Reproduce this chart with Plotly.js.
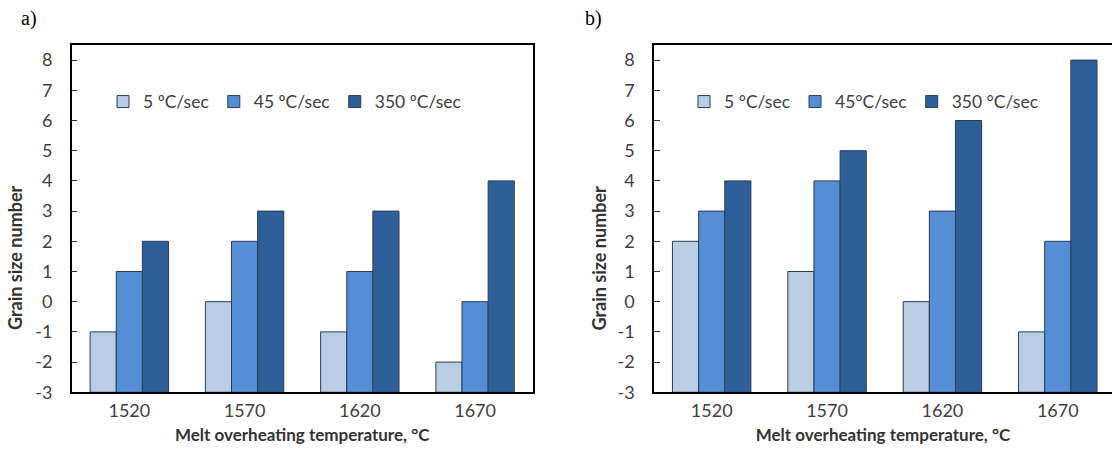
<!DOCTYPE html>
<html>
<head>
<meta charset="utf-8">
<script src="https://cdn.plot.ly/plotly-3.0.1.min.js"></script>
<style>html,body{margin:0;padding:0;overflow:hidden;background:#fff}#chart{width:1112px;height:450px}</style>
</head>
<body>
<div id="chart"></div>
<script>
// ---- data ----
const categories = ['1520', '1570', '1620', '1670'];
const namesA = ['5 ºC/sec', '45 ºC/sec', '350 ºC/sec'];
const namesB = ['5 °C/sec', '45°C/sec', '350 °C/sec'];
const a_5 = [-1, 0, -1, -2];
const a_45 = [1, 2, 1, 0];
const a_350 = [2, 3, 3, 4];
const b_5 = [2, 1, 0, -1];
const b_45 = [3, 4, 3, 2];
const b_350 = [4, 5, 6, 8];
const yTickVals = [-3, -2, -1, 0, 1, 2, 3, 4, 5, 6, 7, 8];
const yTickText = yTickVals.map(String);
const axisMin = -3;

// ---- styles ----
const colors = ['#b9cde5', '#558ed5', '#2f5f98'];
const W = 1112, H = 450;
const px = v => v / W, py = v => (H - v) / H;
const FONT = 'Lato, "Open Sans", sans-serif';

function bars(vals, name, color, xa, ya, leg) {
  return {
    type: 'bar', x: categories, y: vals.map(v => v - axisMin), base: axisMin,
    customdata: vals, hovertemplate: '%{customdata}<extra>' + name + '</extra>',
    name: name, xaxis: xa, yaxis: ya, legend: leg,
    marker: {color: color, line: {color: '#2a3d58', width: 1}}
  };
}
const data = [
  bars(a_5, namesA[0], colors[0], 'x', 'y', 'legend'),
  bars(a_45, namesA[1], colors[1], 'x', 'y', 'legend'),
  bars(a_350, namesA[2], colors[2], 'x', 'y', 'legend'),
  bars(b_5, namesB[0], colors[0], 'x2', 'y2', 'legend2'),
  bars(b_45, namesB[1], colors[1], 'x2', 'y2', 'legend2'),
  bars(b_350, namesB[2], colors[2], 'x2', 'y2', 'legend2')
];

const tickFont = {family: FONT, size: 18, color: '#404040'};
const xTitleFont = {family: FONT, size: 17, color: '#333333', weight: 'bold'};
const yTitleFont = {family: FONT, size: 18, color: '#333333', weight: 'bold'};
function xax(domain, range) {
  return {
    domain: domain, type: 'category', range: range, showgrid: false, zeroline: false,
    showline: true, linecolor: '#000', linewidth: 1.5, mirror: true, ticks: '',
    tickfont: tickFont, ticklabelstandoff: 1,
    title: {text: 'Melt overheating temperature, °C', font: xTitleFont, standoff: 9}
  };
}
function yax(anchor) {
  return {
    anchor: anchor, domain: [py(392.3), py(45)], range: [-3, 8.5], showgrid: false, zeroline: false,
    showline: true, linecolor: '#000', linewidth: 1.5, mirror: true,
    ticks: 'inside', ticklen: 6, tickcolor: '#333', tickwidth: 1,
    tickvals: yTickVals, ticktext: yTickText, tickfont: tickFont, ticklabelstandoff: 14
  };
}

const legendCommon = {
  orientation: 'h', xanchor: 'left', yanchor: 'middle', bgcolor: 'rgba(0,0,0,0)',
  font: {family: FONT, size: 17.5, color: '#404040'}, itemclick: false, traceorder: 'normal'
};

const layout = {
  width: W, height: H, margin: {l: 0, r: 0, t: 0, b: 0},
  paper_bgcolor: '#fff', plot_bgcolor: '#fff',
  barmode: 'group', bargap: 0.32, bargroupgap: 0,
  xaxis: Object.assign(xax([px(71.7), px(532.7)], [-0.5, 3.5]), {anchor: 'y'}),
  yaxis: yax('x'),
  xaxis2: Object.assign(xax([px(654), 1], [-0.5, 3.47]), {anchor: 'y2'}),
  yaxis2: yax('x2'),
  legend: Object.assign({}, legendCommon, {x: px(103), y: py(101.7)}),
  legend2: Object.assign({}, legendCommon, {x: px(684), y: py(101.7)}),
  annotations: [
    {text: 'a)', x: px(19), y: py(18), xref: 'paper', yref: 'paper', xanchor: 'left', yanchor: 'middle', showarrow: false,
     font: {family: '"Liberation Serif", "DejaVu Serif", serif', size: 20, color: '#000'}},
    {text: 'b)', x: px(583), y: py(18), xref: 'paper', yref: 'paper', xanchor: 'left', yanchor: 'middle', showarrow: false,
     font: {family: '"Liberation Serif", "DejaVu Serif", serif', size: 20, color: '#000'}},
    {text: 'Grain size number', textangle: -90, x: px(15), y: py(258), xref: 'paper', yref: 'paper',
     xanchor: 'center', yanchor: 'middle', showarrow: false, font: yTitleFont},
    {text: 'Grain size number', textangle: -90, x: px(598.5), y: py(258), xref: 'paper', yref: 'paper',
     xanchor: 'center', yanchor: 'middle', showarrow: false, font: yTitleFont}
  ]
};

Plotly.newPlot('chart', data, layout, {displayModeBar: false});
</script>
</body>
</html>
